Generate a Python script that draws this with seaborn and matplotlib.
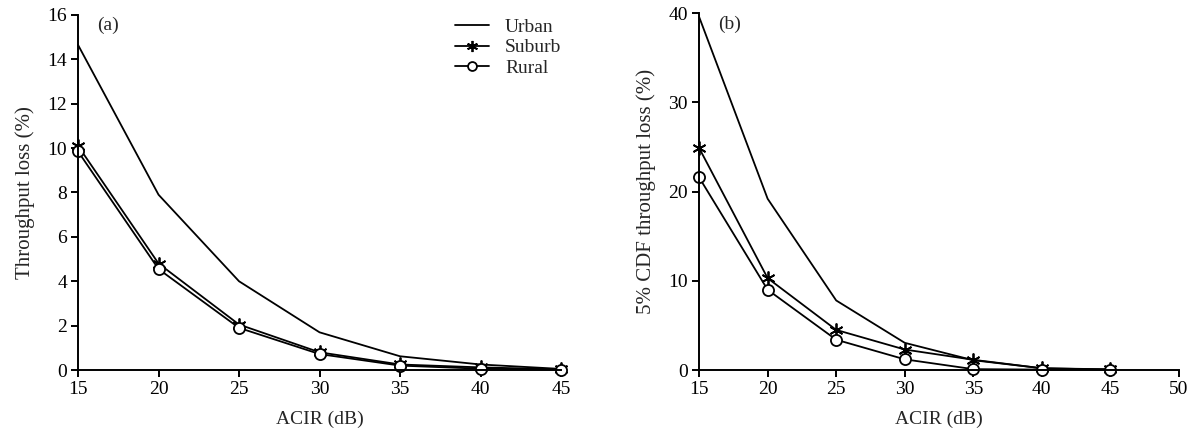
import pandas as pd
import seaborn as sns
import matplotlib.pyplot as plt

# ACIR values (dB)
acir = [15, 20, 25, 30, 35, 40, 45]

# (a) mean throughput loss (%)
urban_a = [14.65, 7.9, 4.0, 1.7, 0.62, 0.25, 0.05]
suburb_a = [10.1, 4.8, 2.05, 0.8, 0.25, 0.12, 0.03]
rural_a = [9.85, 4.55, 1.9, 0.72, 0.2, 0.06, 0.02]

# (b) 5% CDF throughput loss (%)
urban_b = [39.6, 19.2, 7.8, 3.05, 1.1, 0.2, 0.05]
suburb_b = [24.9, 10.3, 4.5, 2.3, 1.15, 0.2, 0.08]
rural_b = [21.6, 9.0, 3.4, 1.2, 0.1, 0.05, 0.05]

sns.set_theme(style="ticks")
plt.rcParams['font.family'] = ['Liberation Serif', 'DejaVu Serif']
plt.rcParams['font.size'] = 14

fig = plt.figure(figsize=(11.95, 4.4), dpi=100)
ax1 = fig.add_axes([0.0653, 0.159, 0.4042, 0.807])
ax2 = fig.add_axes([0.585, 0.159, 0.4016, 0.811])

asterisk = (6, 2, 0)
styles = {
    'Urban': dict(marker=None),
    'Suburb': dict(marker=asterisk, markersize=10, markeredgewidth=1.3,
                   markeredgecolor='black'),
    'Rural': dict(marker='o', markersize=8, markerfacecolor='white',
                  markeredgecolor='black', markeredgewidth=1.3),
}


def draw(ax, series):
    for name, vals in series.items():
        df = pd.DataFrame({'ACIR': acir, 'loss': vals})
        sns.lineplot(data=df, x='ACIR', y='loss', ax=ax, color='black',
                     linewidth=1.3, label=name, clip_on=False, **styles[name])
    for side in ['top', 'right']:
        ax.spines[side].set_visible(False)
    for side in ['left', 'bottom']:
        ax.spines[side].set_linewidth(1.4)
        ax.spines[side].set_color('black')
    ax.tick_params(direction='out', length=5, width=1.4, colors='black',
                   labelsize=14, pad=3)
    ax.set_xlabel('ACIR (dB)', fontsize=14, labelpad=9)


draw(ax1, {'Urban': urban_a, 'Suburb': suburb_a, 'Rural': rural_a})
ax1.set_xlim(15, 45)
ax1.set_ylim(0, 16)
ax1.set_xticks(range(15, 46, 5))
ax1.set_yticks(range(0, 17, 2))
ax1.set_ylabel('Throughput loss (%)', fontsize=15, labelpad=9)
ax1.text(0.04, 0.97, '(a)', transform=ax1.transAxes, fontsize=14,
         va='center', ha='left')
leg = ax1.legend(loc='upper left', bbox_to_anchor=(0.745, 1.04),
                 frameon=False, handlelength=1.75, fontsize=14,
                 labelspacing=0.15, handletextpad=0.8, markerscale=0.8)

draw(ax2, {'Urban': urban_b, 'Suburb': suburb_b, 'Rural': rural_b})
ax2.set_xlim(15, 50)
ax2.set_ylim(0, 40)
ax2.set_xticks(range(15, 51, 5))
ax2.set_yticks(range(0, 41, 10))
ax2.set_ylabel('5% CDF throughput loss (%)', fontsize=15, labelpad=9)
ax2.text(0.04, 0.97, '(b)', transform=ax2.transAxes, fontsize=14,
         va='center', ha='left')
ax2.get_legend().remove()

fig.savefig('out.png', dpi=100)
